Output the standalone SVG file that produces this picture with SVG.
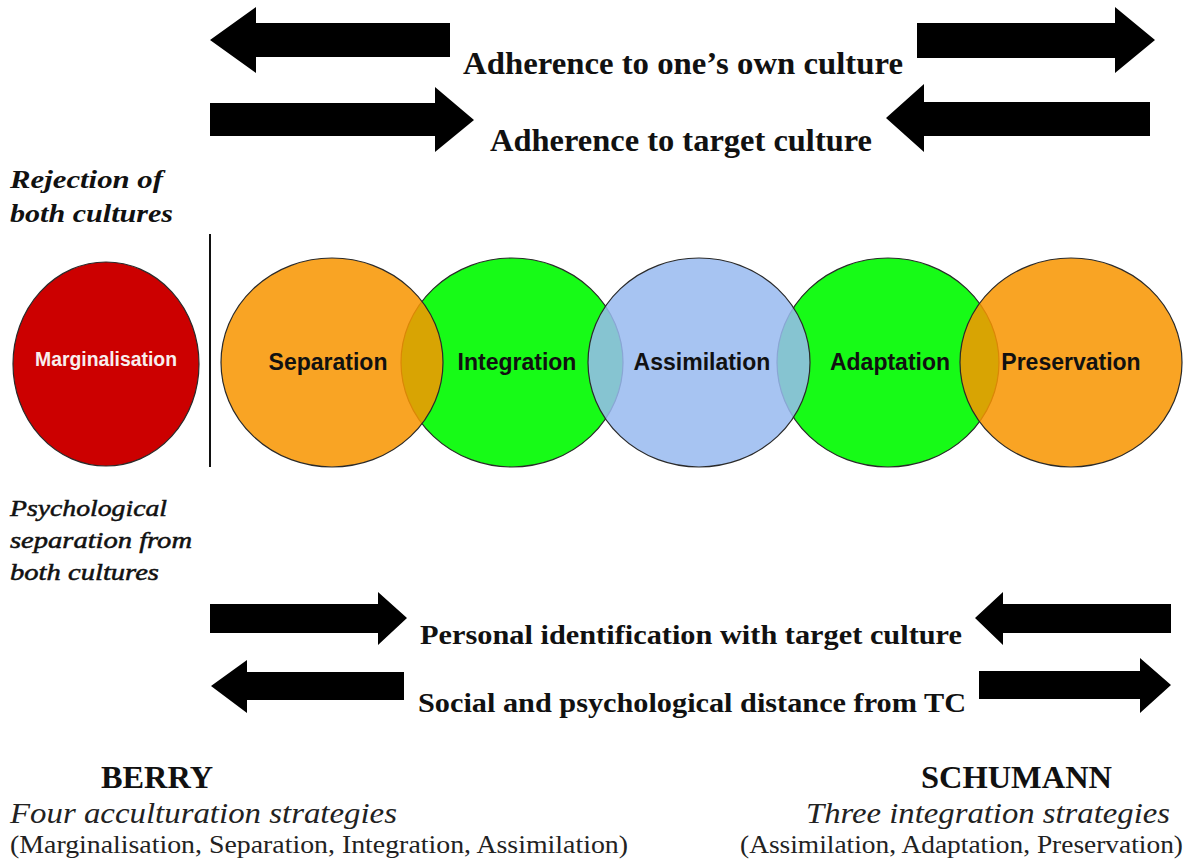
<svg xmlns="http://www.w3.org/2000/svg" width="1188" height="867" viewBox="0 0 1188 867">
<style>
.bg{fill:#ffffff}
.arrow{fill:#000000}
.circ{stroke:#2a2a2a;stroke-width:1.2}
.green{fill:#17fb17}
.orange{fill:#f89500;fill-opacity:0.86}
.blue{fill:#98baf0;fill-opacity:0.86}
.red{fill:#cc0000}
.lbl{font-family:"Liberation Sans",Arial,sans-serif;font-weight:bold;font-size:23px;fill:#111111;text-anchor:middle}
.mlbl{font-family:"Liberation Sans",Arial,sans-serif;font-weight:bold;font-size:19.5px;fill:#f8eeee;text-anchor:middle}
.head{font-family:"Liberation Serif","Times New Roman",serif;font-weight:bold;font-size:32px;fill:#111111}
.head2{font-family:"Liberation Serif","Times New Roman",serif;font-weight:bold;font-size:28px;fill:#111111}
.side{font-family:"Liberation Serif","Times New Roman",serif;font-weight:bold;font-style:italic;font-size:25px;fill:#111111}
.side2{font-family:"Liberation Serif","Times New Roman",serif;font-style:italic;font-size:23px;fill:#111111;stroke:#111111;stroke-width:0.5}
.name{font-family:"Liberation Serif","Times New Roman",serif;font-weight:bold;font-size:32px;fill:#111111}
.sub{font-family:"Liberation Serif","Times New Roman",serif;font-style:italic;font-size:30px;fill:#222222}
.list{font-family:"Liberation Serif","Times New Roman",serif;font-size:26px;fill:#222222}
</style>
<rect class="bg" x="0" y="0" width="1188" height="867"/>

<g id="connectors">
  <polygon class="arrow" points="210,40 256,7 256,23 450,23 450,57 256,57 256,73"/>
  <polygon class="arrow" points="917,23 1115,23 1115,7 1155,40 1115,73 1115,58 917,58"/>
  <polygon class="arrow" points="210,103 435,103 435,87 474,120 435,152 435,136 210,136"/>
  <polygon class="arrow" points="886,118 924,84 924,102 1150,102 1150,136 924,136 924,152"/>
  <polygon class="arrow" points="210,604 378,604 378,592 407,618 378,645 378,633 210,633"/>
  <polygon class="arrow" points="975,618 1003,592 1003,604 1171,604 1171,633 1003,633 1003,645"/>
  <polygon class="arrow" points="211,686 247,660 247,672 404,672 404,700 247,700 247,713"/>
  <polygon class="arrow" points="979,671 1140,671 1140,658 1171,685 1140,713 1140,699 979,699"/>
  <line x1="210" y1="234" x2="210" y2="467" stroke="#111111" stroke-width="2"/>
</g>

<g id="label-own-culture">
  <text class="head" x="463" y="74" textLength="440" lengthAdjust="spacingAndGlyphs">Adherence to one’s own culture</text>
</g>
<g id="label-target-culture">
  <text class="head" x="490" y="151" textLength="382" lengthAdjust="spacingAndGlyphs">Adherence to target culture</text>
</g>
<g id="label-rejection">
  <text class="side" x="10" y="188" textLength="153" lengthAdjust="spacingAndGlyphs">Rejection of</text>
  <text class="side" x="10" y="222" textLength="163" lengthAdjust="spacingAndGlyphs">both cultures</text>
</g>

<g id="node-integration">
  <ellipse class="circ green" cx="512" cy="362.5" rx="111" ry="104.5"/>
</g>
<g id="node-adaptation">
  <ellipse class="circ green" cx="888" cy="362.5" rx="111" ry="104.5"/>
</g>
<g id="node-separation">
  <ellipse class="circ orange" cx="332" cy="362.5" rx="111" ry="104.5"/>
</g>
<g id="node-assimilation">
  <ellipse class="circ blue" cx="699" cy="362.5" rx="111" ry="104.5"/>
</g>
<g id="node-preservation">
  <ellipse class="circ orange" cx="1071" cy="362.5" rx="111" ry="104.5"/>
</g>
<g id="node-marginalisation">
  <ellipse class="circ red" cx="106" cy="364" rx="93" ry="102"/>
  <text class="mlbl" x="106" y="366" textLength="142" lengthAdjust="spacingAndGlyphs">Marginalisation</text>
</g>
<g id="circle-labels">
  <text class="lbl" x="328" y="370">Separation</text>
  <text class="lbl" x="517" y="370">Integration</text>
  <text class="lbl" x="702" y="370">Assimilation</text>
  <text class="lbl" x="890" y="370">Adaptation</text>
  <text class="lbl" x="1071" y="370">Preservation</text>
</g>

<g id="label-psychological">
  <text class="side2" x="10" y="516" textLength="157" lengthAdjust="spacingAndGlyphs">Psychological</text>
  <text class="side2" x="10" y="548" textLength="182" lengthAdjust="spacingAndGlyphs">separation from</text>
  <text class="side2" x="10" y="580" textLength="149" lengthAdjust="spacingAndGlyphs">both cultures</text>
</g>

<g id="label-personal">
  <text class="head2" x="420" y="644" textLength="542" lengthAdjust="spacingAndGlyphs">Personal identification with target culture</text>
</g>
<g id="label-social">
  <text class="head2" x="418" y="712" textLength="548" lengthAdjust="spacingAndGlyphs">Social and psychological distance from TC</text>
</g>

<g id="berry">
  <text class="name" x="101" y="788" textLength="112" lengthAdjust="spacingAndGlyphs">BERRY</text>
  <text class="sub" x="10" y="823" textLength="387" lengthAdjust="spacingAndGlyphs">Four acculturation strategies</text>
  <text class="list" x="10" y="853" textLength="618" lengthAdjust="spacingAndGlyphs">(Marginalisation, Separation, Integration, Assimilation)</text>
</g>
<g id="schumann">
  <text class="name" x="921" y="788" textLength="191" lengthAdjust="spacingAndGlyphs">SCHUMANN</text>
  <text class="sub" x="806" y="823" textLength="364" lengthAdjust="spacingAndGlyphs">Three integration strategies</text>
  <text class="list" x="740" y="853" textLength="443" lengthAdjust="spacingAndGlyphs">(Assimilation, Adaptation, Preservation)</text>
</g>
</svg>
